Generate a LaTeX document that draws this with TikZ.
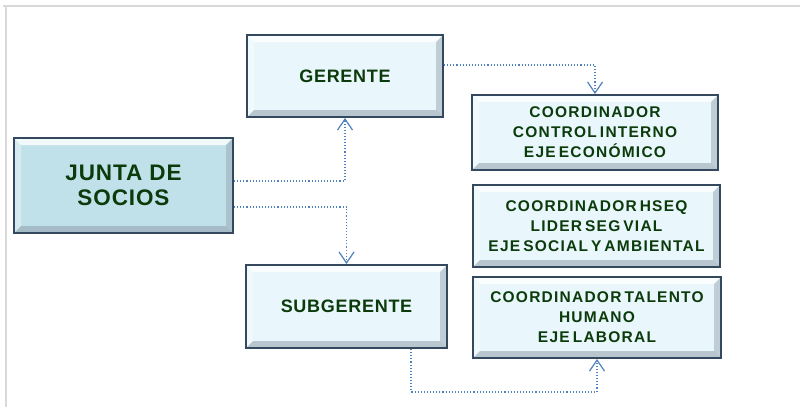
\documentclass[tikz,border=0pt]{standalone}
\usepackage{fontspec}
\setmainfont{Liberation Sans}
\newfontfamily\coordfont{Liberation Sans}[LetterSpace=8,WordSpace=0.55]
\usetikzlibrary{arrows.meta,calc}
\definecolor{frame}{HTML}{D9D9D9}
\definecolor{edge}{HTML}{34495E}
\definecolor{lightfill}{HTML}{E9F6FB}
\definecolor{juntafill}{HTML}{C1E1EA}
\definecolor{txt}{HTML}{0B3B0B}
\definecolor{link}{HTML}{4F81BD}
\definecolor{bevdark}{HTML}{8E9FAB}
\tikzset{
  bevel/.style={path picture={
    \fill[white,opacity=.8] (path picture bounding box.north west) -- (path picture bounding box.north east)
      -- ([xshift=-7pt,yshift=-7pt]path picture bounding box.north east) -- ([xshift=7pt,yshift=-7pt]path picture bounding box.north west) -- cycle;
    \fill[white,opacity=.35] (path picture bounding box.north west) -- (path picture bounding box.south west)
      -- ([xshift=7pt,yshift=7pt]path picture bounding box.south west) -- ([xshift=7pt,yshift=-7pt]path picture bounding box.north west) -- cycle;
    \fill[bevdark,opacity=.55] (path picture bounding box.south west) -- (path picture bounding box.south east)
      -- ([xshift=-7pt,yshift=7pt]path picture bounding box.south east) -- ([xshift=7pt,yshift=7pt]path picture bounding box.south west) -- cycle;
    \fill[bevdark,opacity=.45] (path picture bounding box.north east) -- (path picture bounding box.south east)
      -- ([xshift=-7pt,yshift=7pt]path picture bounding box.south east) -- ([xshift=-7pt,yshift=-7pt]path picture bounding box.north east) -- cycle;
  }},
  orgbox/.style={draw=edge, line width=2pt, fill=lightfill, bevel, align=center,
    text=txt, font=\addfontfeature{LetterSpace=4}\fontsize{18}{20}\selectfont\bfseries, inner sep=0pt},
  coordbox/.style={orgbox, font=\coordfont\fontsize{15.5}{20}\selectfont\bfseries},
  link/.style={draw=link, dotted, line width=1.1pt, -{Straight Barb[length=11pt,width=15pt,line width=1.2pt]}}
}
\begin{document}
\begin{tikzpicture}[x=1pt,y=-1pt]
\useasboundingbox (0,0) rectangle (810,407);
\fill[white] (0,0) rectangle (810,407);
\draw[frame, line width=2pt] (3,5.5) -- (800,5.5);
\draw[frame, line width=2pt] (5.5,5) -- (5.5,407);

\node[orgbox, fill=juntafill, minimum width=219pt, minimum height=95pt,
  font=\addfontfeature{LetterSpace=4}\fontsize{22.5}{25}\selectfont\bfseries] (junta) at (123.5,185.5) {JUNTA DE\\SOCIOS};
\node[orgbox, minimum width=196pt, minimum height=82pt] (gerente) at (345,76) {GERENTE};
\node[orgbox, minimum width=201pt, minimum height=83pt] (sub) at (346.5,306.5) {SUBGERENTE};
\node[coordbox, minimum width=246pt, minimum height=75pt] (c1) at (595,132.5)
  {COORDINADOR\\CONTROL INTERNO\\EJE ECONÓMICO};
\node[coordbox, minimum width=247pt, minimum height=82pt] (c2) at (596.5,226)
  {COORDINADOR HSEQ\\LIDER SEG VIAL\\EJE SOCIAL Y AMBIENTAL};
\node[coordbox, minimum width=248pt, minimum height=81pt] (c3) at (597,317.5)
  {COORDINADOR TALENTO\\HUMANO\\EJE LABORAL};

\draw[link] ([yshift=4.5pt]junta.east) -| (gerente.south);
\draw[link] ([yshift=-21.5pt]junta.east) -| (sub.north);
\draw[link] ([yshift=11pt]gerente.east) -| (c1.north);
\draw[link] ([xshift=64.5pt]sub.south) -- ++(0,43) -| (c3.south);
\end{tikzpicture}
\end{document}
